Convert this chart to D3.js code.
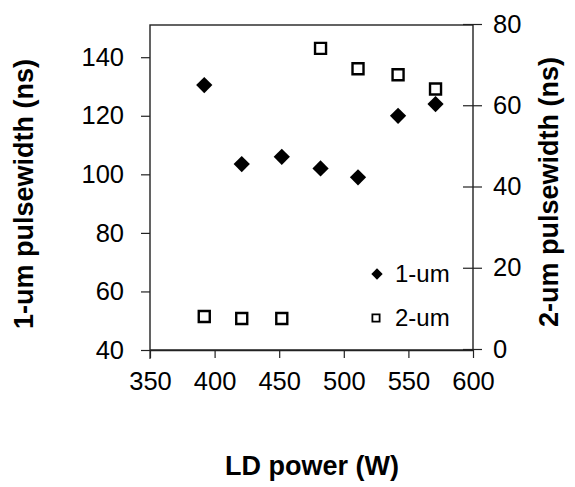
<!DOCTYPE html>
<html>
<head>
<meta charset="utf-8">
<script src="https://cdn.jsdelivr.net/npm/d3@7/dist/d3.min.js"></script>
<style>
  html, body { margin: 0; padding: 0; background: #fff; }
  svg { display: block; }
  text { font-family: "Liberation Sans", Arial, sans-serif; fill: #000; }
</style>
</head>
<body>
<svg id="chart" width="575" height="487"></svg>
<script>
// Data
const ldPower = [392, 421, 452, 482, 511, 542, 571];
const pulse1um = [130.5, 103.5, 106, 102, 99, 120, 124];
const pulse2um = [8, 7.5, 7.5, 74, 69, 67.5, 64];
const xTicks = [350, 400, 450, 500, 550, 600];
const yLeftTicks = [40, 60, 80, 100, 120, 140];
const yRightTicks = [0, 20, 40, 60, 80];
const seriesNames = ["1-um", "2-um"];

const svg = d3.select("#chart");
const L = 150, R = 473, T = 25, B = 350;

const x = d3.scaleLinear().domain([350, 600]).range([L, R]);
const yL = d3.scaleLinear().domain([40, 151]).range([B, T]);
const yR = d3.scaleLinear().domain([0, 80]).range([B - 1, T - 1]);

// plot frame
svg.append("rect")
  .attr("x", L).attr("y", T).attr("width", R - L).attr("height", B - T)
  .attr("fill", "none").attr("stroke", "#222").attr("stroke-width", 1.4);

// bottom axis
const xAxis = svg.append("g").attr("transform", `translate(0,${B})`)
  .call(d3.axisBottom(x).tickValues(xTicks).tickSize(8).tickPadding(14).tickSizeOuter(0));
xAxis.select(".domain").attr("stroke", "#222").attr("stroke-width", 1.4);
xAxis.selectAll(".tick line").attr("stroke", "#222").attr("stroke-width", 1.2);
xAxis.selectAll(".tick text").attr("font-size", 25.5).attr("dy", "0.71em");

// left axis
const lAxis = svg.append("g").attr("transform", `translate(${L},0)`)
  .call(d3.axisLeft(yL).tickValues(yLeftTicks).tickSize(9).tickPadding(17).tickSizeOuter(0));
lAxis.select(".domain").remove();
lAxis.selectAll(".tick line").attr("stroke", "#222").attr("stroke-width", 1.2);
lAxis.selectAll(".tick text").attr("font-size", 25.5);

// right axis (ticks cross the axis)
const rAxis = svg.append("g").attr("transform", `translate(${R},0)`)
  .call(d3.axisRight(yR).tickValues(yRightTicks).tickSize(9).tickPadding(11).tickSizeOuter(0));
rAxis.select(".domain").remove();
rAxis.selectAll(".tick line").attr("x1", -10).attr("stroke", "#222").attr("stroke-width", 1.2);
rAxis.selectAll(".tick text").attr("font-size", 25.5);

// left axis extends below bottom
svg.append("line").attr("x1", L).attr("x2", L).attr("y1", B).attr("y2", B + 9)
  .attr("stroke", "#222").attr("stroke-width", 1.2);

// series 1-um: filled diamonds
const diamond = d3.symbol().type(d3.symbolSquare).size(132);
svg.append("g").selectAll("path").data(ldPower).join("path")
  .attr("d", diamond)
  .attr("transform", (d, i) => `translate(${x(d)},${yL(pulse1um[i])}) rotate(45)`)
  .attr("fill", "#000");

// series 2-um: open squares
const square = d3.symbol().type(d3.symbolSquare).size(121);
svg.append("g").selectAll("path").data(ldPower).join("path")
  .attr("d", square)
  .attr("transform", (d, i) => `translate(${x(d)},${yR(pulse2um[i])})`)
  .attr("fill", "#fff").attr("stroke", "#000").attr("stroke-width", 2.4);

// legend
const lg = svg.append("g");
lg.append("path").attr("d", d3.symbol().type(d3.symbolSquare).size(64))
  .attr("transform", "translate(377,274) rotate(45)").attr("fill", "#000");
lg.append("text").attr("x", 395).attr("y", 282).attr("font-size", 24).text(seriesNames[0]);
lg.append("path").attr("d", d3.symbol().type(d3.symbolSquare).size(52))
  .attr("transform", "translate(376,318)").attr("fill", "#fff")
  .attr("stroke", "#000").attr("stroke-width", 1.8);
lg.append("text").attr("x", 395).attr("y", 326).attr("font-size", 24).text(seriesNames[1]);

// axis titles
svg.append("text").attr("x", 312).attr("y", 475).attr("text-anchor", "middle")
  .attr("font-size", 27).attr("font-weight", "bold").text("LD power (W)");
svg.append("text").attr("transform", "translate(33,194) rotate(-90)").attr("text-anchor", "middle")
  .attr("font-size", 27).attr("font-weight", "bold").text("1-um pulsewidth (ns)");
svg.append("text").attr("transform", "translate(558,192) rotate(-90)").attr("text-anchor", "middle")
  .attr("font-size", 27).attr("font-weight", "bold").text("2-um pulsewidth (ns)");
</script>
</body>
</html>
